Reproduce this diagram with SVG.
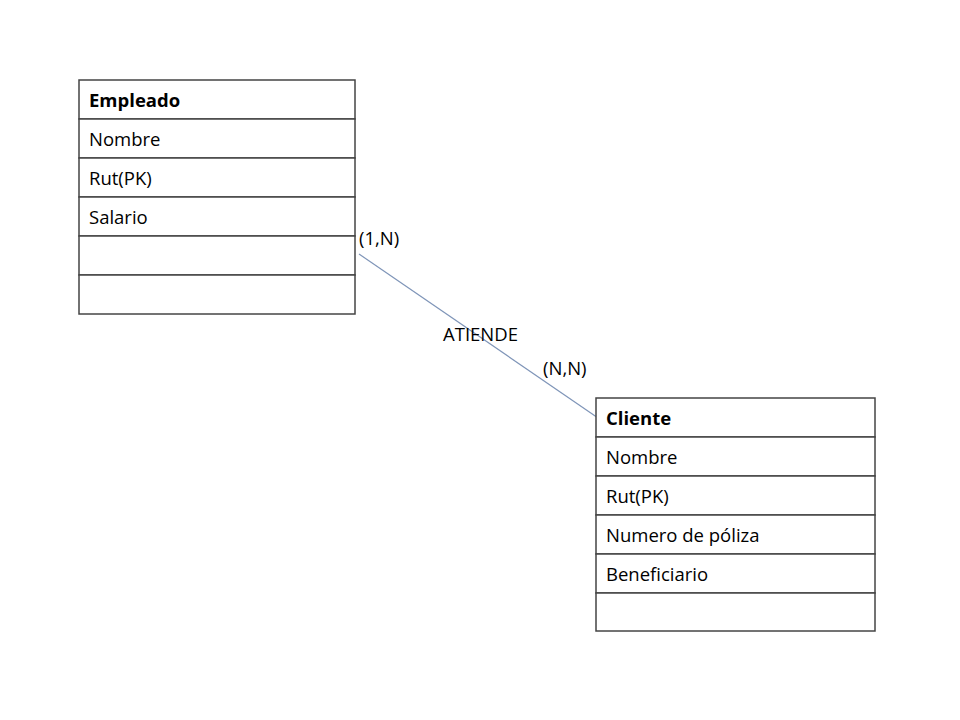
<svg xmlns="http://www.w3.org/2000/svg" width="960" height="720" viewBox="0 0 960 720">
<style>
text{font-family:"Open Sans","Liberation Sans",Arial,sans-serif;font-size:18.5px;fill:#000}
.b{font-weight:bold}
.cell{fill:#fff;stroke:#444;stroke-width:1.5}
.con{stroke:#7f95b8;stroke-width:1.2;fill:none}
</style>
<rect width="960" height="720" fill="#fff"/>
<g id="connectors">
<line class="con" x1="359" y1="254" x2="601" y2="420"/>
</g>
<g id="empleado">
<rect class="cell" x="79" y="80" width="276" height="39"/>
<rect class="cell" x="79" y="119" width="276" height="39"/>
<rect class="cell" x="79" y="158" width="276" height="39"/>
<rect class="cell" x="79" y="197" width="276" height="39"/>
<rect class="cell" x="79" y="236" width="276" height="39"/>
<rect class="cell" x="79" y="275" width="276" height="39"/>
<text class="b" x="89" y="107">Empleado</text>
<text x="89" y="146">Nombre</text>
<text x="89" y="185">Rut(PK)</text>
<text x="89" y="224">Salario</text>
</g>
<g id="cliente">
<rect class="cell" x="596" y="398" width="279" height="39"/>
<rect class="cell" x="596" y="437" width="279" height="39"/>
<rect class="cell" x="596" y="476" width="279" height="39"/>
<rect class="cell" x="596" y="515" width="279" height="39"/>
<rect class="cell" x="596" y="554" width="279" height="39"/>
<rect class="cell" x="596" y="593" width="279" height="38"/>
<text class="b" x="606" y="425">Cliente</text>
<text x="606" y="464">Nombre</text>
<text x="606" y="503">Rut(PK)</text>
<text x="606" y="542">Numero de póliza</text>
<text x="606" y="581">Beneficiario</text>
</g>
<g id="labels">
<text x="359" y="245">(1,N)</text>
<text x="443" y="341">ATIENDE</text>
<text x="543" y="375">(N,N)</text>
</g>
</svg>
